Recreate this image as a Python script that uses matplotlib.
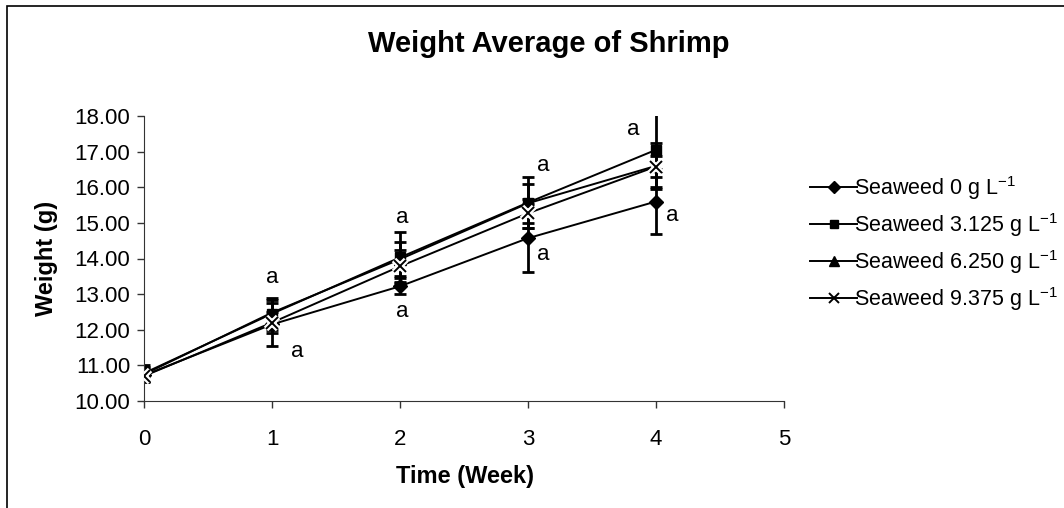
import numpy as np
import matplotlib
matplotlib.use("Agg")
import matplotlib.pyplot as plt
from matplotlib.patches import Rectangle
from matplotlib.lines import Line2D

plt.rcParams['font.family'] = ['Liberation Sans', 'DejaVu Sans']
plt.rcParams['mathtext.fontset'] = 'custom'
plt.rcParams['mathtext.rm'] = 'Liberation Sans'
plt.rcParams['mathtext.it'] = 'Liberation Sans'

### data ###
weeks = [0, 1, 2, 3, 4]

labels = ["Seaweed 0 g L$^{-1}$", "Seaweed 3.125 g L$^{-1}$",
          "Seaweed 6.250 g L$^{-1}$", "Seaweed 9.375 g L$^{-1}$"]

w_0 = [10.72, 12.15, 13.22, 14.57, 15.60]
w_3125 = [10.78, 12.45, 14.03, 15.57, 17.05]
w_6250 = [10.75, 12.48, 13.98, 15.55, 16.60]
w_9375 = [10.70, 12.20, 13.78, 15.27, 16.58]

e_0 = [0.20, 0.60, 0.22, 0.95, 0.90]
e_3125 = [0.22, 0.45, 0.72, 0.72, 1.05]
e_6250 = [0.20, 0.35, 0.48, 0.55, 0.65]
e_9375 = [0.15, 0.30, 0.45, 0.40, 0.30]

# significance letters (x, y)
sig_x = [1.0, 1.2, 2.02, 2.02, 3.12, 3.12, 3.82, 4.13]
sig_y = [13.48, 11.38, 15.14, 12.50, 16.62, 14.10, 17.62, 15.20]

### plot ###
W, H = 1064, 508
fig = plt.figure(figsize=(W / 100, H / 100), dpi=100)
ax = fig.add_axes([144 / W, 1 - 401 / H, 640 / W, 285 / H])

markers = [('D', 7), ('s', 7), ('^', 8), ('x', 8)]
series = [(w_0, e_0), (w_3125, e_3125), (w_6250, e_6250), (w_9375, e_9375)]
for (vals, errs), (mk, ms) in zip(series, markers):
    if mk == 'x':
        # white halo so the cross cuts through the other lines
        ax.errorbar(weeks, vals, yerr=errs, color='black', lw=1.4,
                    ecolor='black', elinewidth=2, capsize=4.3, capthick=2)
        ax.plot(weeks, vals, ls='none', marker='x', ms=ms + 1, mew=4.5,
                color='white', zorder=3)
        ax.plot(weeks, vals, ls='none', marker='x', ms=ms, mew=1.4,
                color='black', zorder=4)
    else:
        ax.errorbar(weeks, vals, yerr=errs, color='black', lw=1.4, marker=mk,
                    markersize=ms, markerfacecolor='black', ecolor='black',
                    elinewidth=2, capsize=4.3, capthick=2)

for x, y in zip(sig_x, sig_y):
    ax.text(x, y, "a", fontsize=16, ha='center', va='center')

ax.set_xlim(0, 5)
ax.set_ylim(10, 18)
ax.set_xticks(range(0, 6))
yt = np.arange(10, 18.5, 1)
ax.set_yticks(yt)
ax.set_yticklabels([f"{v:.2f}" for v in yt])
ax.tick_params(labelsize=16, direction='out', length=5, width=1, color='#333333')
ax.tick_params(axis='y', pad=5)
ax.tick_params(axis='x', pad=15)
ax.spines['top'].set_visible(False)
ax.spines['right'].set_visible(False)
ax.spines['left'].set_color('#333333')
ax.spines['bottom'].set_color('#333333')

fig.text(465 / W, 1 - 477 / H, "Time (Week)", fontsize=17, fontweight='bold',
         ha='center', va='center')
fig.text(47 / W, 1 - 258 / H, "Weight (g)", fontsize=17, fontweight='bold',
         ha='center', va='center', rotation=90)
fig.text(549 / W, 1 - 44 / H, "Weight Average of Shrimp", fontsize=21,
         fontweight='bold', ha='center', va='center')

handles = [Line2D([], [], color='black', lw=1.4, marker=mk, ms=ms - 1,
                  mew=1.4 if mk == 'x' else 1.0)
           for mk, ms in markers]
fig.legend(handles, labels, loc='upper left', bbox_to_anchor=(810 / W, 1 - 174 / H),
           frameon=False, fontsize=15.5, handlelength=2.2, handletextpad=-0.15,
           labelspacing=0.42, borderaxespad=0, borderpad=0)

fig.add_artist(Rectangle((7 / W, -0.2), 1.2, 1.2 - 6 / H,
                         transform=fig.transFigure, fill=False,
                         edgecolor='black', lw=1.2, clip_on=False))

fig.savefig("out.png", dpi=100)
